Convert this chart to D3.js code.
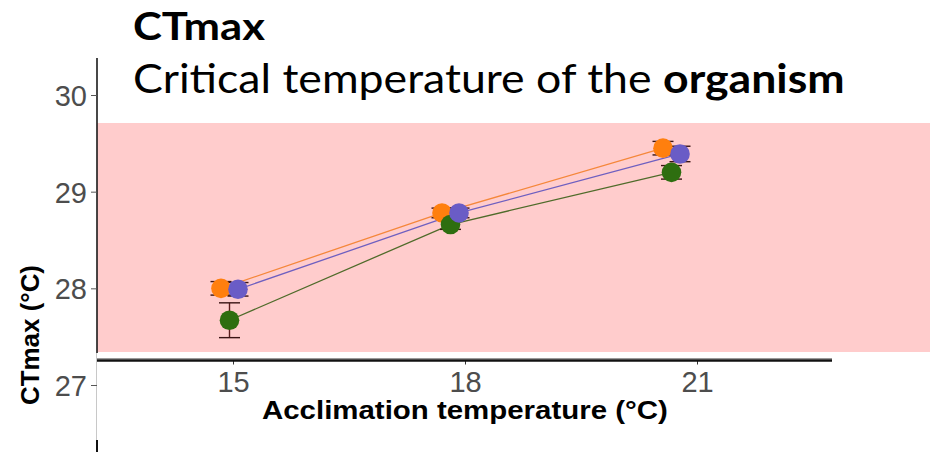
<!DOCTYPE html>
<html>
<head>
<meta charset="utf-8">
<script src="https://cdn.jsdelivr.net/npm/d3@7"></script>
<style>
  html, body { margin: 0; padding: 0; background: #ffffff; }
  svg { display: block; }
</style>
</head>
<body>
<svg id="chart" width="930" height="452"></svg>
<script>
// ---- data ----
const acclimation = [15, 18, 21];
const xTicks = [15, 18, 21];
const yTicks = [27, 28, 29, 30];
const seriesNames = ["orange", "green", "purple"];
const orangeMean = [28.00, 28.78, 29.45];
const orangeErr  = [0.07, 0.05, 0.07];
const greenMean  = [27.67, 28.66, 29.20];
const greenErr   = [0.18, 0.05, 0.07];
const purpleMean = [27.99, 28.78, 29.39];
const purpleErr  = [0.07, 0.05, 0.08];
const titleText = "CTmax";
const subtitlePlain = "Critical temperature of the ";
const subtitleBold = "organism";
const xTitle = "Acclimation temperature (°C)";
const yTitle = "CTmax (°C)";

const colors = { orange: "#ff7f0e", green: "#2e6e10", purple: "#6a5cc6" };
const lineColors = { orange: "#f5873a", green: "#4f6b2a", purple: "#6e5fc0" };

const series = [
  { name: "orange", mean: orangeMean, err: orangeErr },
  { name: "green",  mean: greenMean,  err: greenErr },
  { name: "purple", mean: purpleMean, err: purpleErr }
];

const svg = d3.select("#chart");

// scales
const y = d3.scaleLinear().domain([27, 30]).range([385, 95]);
const xAxisScale = d3.scaleLinear().domain([15, 21]).range([233, 697]);
const xPlot = d3.scaleLinear().domain([15, 21]).range([230, 672]);
const dodge = d3.scalePoint().domain(seriesNames).range([-9, 8]);

// pink panel
svg.append("rect")
  .attr("x", 97).attr("y", 123)
  .attr("width", 833).attr("height", 229)
  .attr("fill", "#ffcccc");

// y axis line pieces
svg.append("line").attr("x1", 97).attr("x2", 97).attr("y1", 58).attr("y2", 353)
  .attr("stroke", "#1a1a1a").attr("stroke-width", 1.6);
svg.append("line").attr("x1", 96.5).attr("x2", 96.5).attr("y1", 353).attr("y2", 440)
  .attr("stroke", "#c8c8c8").attr("stroke-width", 1);
svg.append("line").attr("x1", 97).attr("x2", 97).attr("y1", 440).attr("y2", 452)
  .attr("stroke", "#111").attr("stroke-width", 2);

// y axis ticks and labels
const yAxis = d3.axisLeft(y).tickValues(yTicks).tickSize(6).tickPadding(4).tickFormat(d3.format("d"));
const yg = svg.append("g").attr("transform", "translate(97,0)").call(yAxis);
yg.select(".domain").remove();
yg.selectAll(".tick line").attr("stroke", "#555").attr("stroke-width", 1);
yg.selectAll(".tick text")
  .attr("font-family", "'Liberation Sans', Arial, sans-serif")
  .attr("font-size", 29).attr("fill", "#4d4d4d").attr("dy", "0.36em");

// x axis
svg.append("line").attr("x1", 97).attr("x2", 832).attr("y1", 358.5).attr("y2", 358.5)
  .attr("stroke", "#9a9a9a").attr("stroke-width", 1);
const xAxis = d3.axisBottom(xAxisScale).tickValues(xTicks).tickSize(4).tickPadding(12).tickFormat(d3.format("d"));
const xg = svg.append("g").attr("transform", "translate(0,360.5)").call(xAxis);
xg.select(".domain").remove();
svg.append("line").attr("x1", 97).attr("x2", 832).attr("y1", 360.5).attr("y2", 360.5)
  .attr("stroke", "#111").attr("stroke-width", 2.6);
xg.selectAll(".tick line").attr("stroke", "#333").attr("stroke-width", 1);
xg.selectAll(".tick text")
  .attr("font-family", "'Liberation Sans', Arial, sans-serif")
  .attr("font-size", 29).attr("fill", "#4d4d4d").attr("dy", "0.55em");

// lines
const lineGen = (s) => d3.line()
  .x((d, i) => xPlot(acclimation[i]) + dodge(s.name))
  .y(d => y(d))(s.mean);
svg.append("g").selectAll("path").data(series).join("path")
  .attr("d", s => lineGen(s))
  .attr("fill", "none")
  .attr("stroke", s => lineColors[s.name])
  .attr("stroke-width", 1.3);

// error bars
const ebG = svg.append("g");
series.forEach(s => {
  s.mean.forEach((m, i) => {
    const cx = xPlot(acclimation[i]) + dodge(s.name);
    const y1 = y(m - s.err[i]), y2 = y(m + s.err[i]);
    ebG.append("line").attr("x1", cx).attr("x2", cx).attr("y1", y1).attr("y2", y2)
      .attr("stroke", "#5a1c1c").attr("stroke-width", 1.4);
    [y1, y2].forEach(yy => ebG.append("line")
      .attr("x1", cx - 10.5).attr("x2", cx + 10.5).attr("y1", yy).attr("y2", yy)
      .attr("stroke", "#3a1414").attr("stroke-width", 1.4));
  });
});

// points
series.forEach(s => {
  svg.append("g").selectAll("circle").data(s.mean).join("circle")
    .attr("cx", (d, i) => xPlot(acclimation[i]) + dodge(s.name))
    .attr("cy", d => y(d))
    .attr("r", 9.8)
    .attr("fill", colors[s.name]);
});

// helper to fit horizontal text to a target width
function fitX(sel, x, target) {
  const w = sel.node().getComputedTextLength();
  const k = target / w;
  sel.attr("transform", `translate(${x},0) scale(${k},1) translate(${-x},0)`);
}

// titles
const t1 = svg.append("text").attr("x", 133).attr("y", 40)
  .attr("font-family", "Lato, 'Open Sans', sans-serif")
  .attr("font-weight", "bold").attr("font-size", 38).attr("fill", "#000")
  .text(titleText);
fitX(t1, 133, 132);

const t2 = svg.append("text").attr("x", 133).attr("y", 93)
  .attr("font-family", "Lato, 'Open Sans', sans-serif")
  .attr("font-size", 40).attr("fill", "#000");
t2.append("tspan").text(subtitlePlain);
t2.append("tspan").attr("font-weight", "bold").text(subtitleBold);
fitX(t2, 133, 712);

// x axis title
const xt = svg.append("text").attr("x", 262).attr("y", 419)
  .attr("font-family", "'Liberation Sans', Arial, sans-serif")
  .attr("font-weight", "bold").attr("font-size", 25).attr("fill", "#000")
  .text(xTitle);
fitX(xt, 262, 406);

// y axis title
svg.append("text")
  .attr("transform", "translate(39,335) rotate(-90)")
  .attr("text-anchor", "middle")
  .attr("font-family", "'Liberation Sans', Arial, sans-serif")
  .attr("font-weight", "bold").attr("font-size", 25).attr("fill", "#000")
  .attr("textLength", 140).attr("lengthAdjust", "spacingAndGlyphs")
  .text(yTitle);
</script>
</body>
</html>
